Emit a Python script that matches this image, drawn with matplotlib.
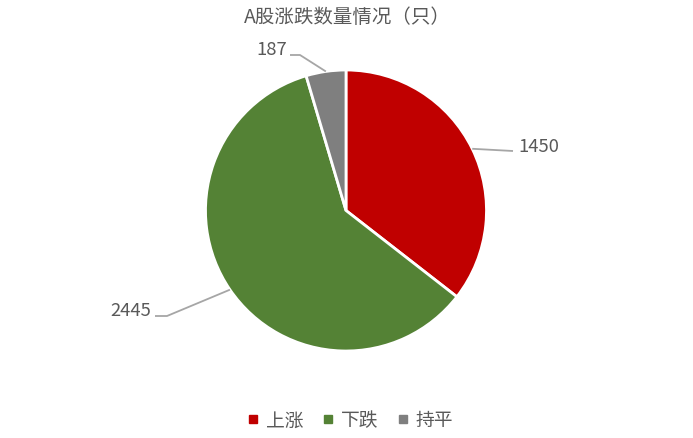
import numpy as np
import matplotlib
matplotlib.use("Agg")
import matplotlib.pyplot as plt
from matplotlib.lines import Line2D

plt.rcParams['font.family'] = ['Noto Sans CJK SC', 'DejaVu Sans']

title = "A股涨跌数量情况（只）"
categories = ["上涨", "下跌", "持平"]
values = [1450, 2445, 187]
colors = ["#C00000", "#548235", "#7F7F7F"]

W, H = 693, 439
fig = plt.figure(figsize=(W / 100, H / 100), dpi=100)
ax = fig.add_axes([0, 0, 1, 1])
ax.set_xlim(0, W)
ax.set_ylim(0, H)
ax.set_aspect('equal')
ax.axis('off')

cx, cy, r = 346, H - 211.5, 140.5
wedges, _ = ax.pie(values, colors=colors, startangle=90, counterclock=False,
                   center=(cx, cy), radius=r, frame=True,
                   wedgeprops=dict(edgecolor='white', linewidth=2))
ax.set_xlim(0, W)
ax.set_ylim(0, H)
ax.axis('off')

txt_color = "#595959"
line_color = "#A6A6A6"

# label layout: (elbow points in pixel y-down coords, text pos, ha)
layouts = [
    ([(513, 152)], (518, 147), 'left'),
    ([(167, 317), (155, 317)], (151, 311), 'right'),
    ([(300, 56), (290, 56)], (287, 50), 'right'),
]
for w, v, (pts, tpos, ha) in zip(wedges, values, layouts):
    mid = np.deg2rad((w.theta1 + w.theta2) / 2)
    ex = cx + r * np.cos(mid)
    ey = cy + r * np.sin(mid)
    xs = [ex] + [p[0] for p in pts]
    ys = [ey] + [H - p[1] for p in pts]
    ax.plot(xs, ys, color=line_color, lw=1.3, solid_capstyle='butt')
    ax.text(tpos[0], H - tpos[1], str(v), ha=ha, va='center',
            fontsize=13.3, color=txt_color)

ax.text(W / 2 + 1, H - 17, title, ha='center', va='center', fontsize=14,
        color=txt_color)

handles = [Line2D([], [], marker='s', linestyle='none', markersize=6,
                  markerfacecolor=c, markeredgecolor=c) for c in colors]
leg = fig.legend(handles, categories, loc='center', bbox_to_anchor=(350 / W, 1 - 421 / H),
                 ncol=3, frameon=False, fontsize=13.5, handlelength=0.6,
                 handletextpad=0.4, columnspacing=1.0, labelcolor=txt_color)

fig.savefig("out.png", dpi=100)
